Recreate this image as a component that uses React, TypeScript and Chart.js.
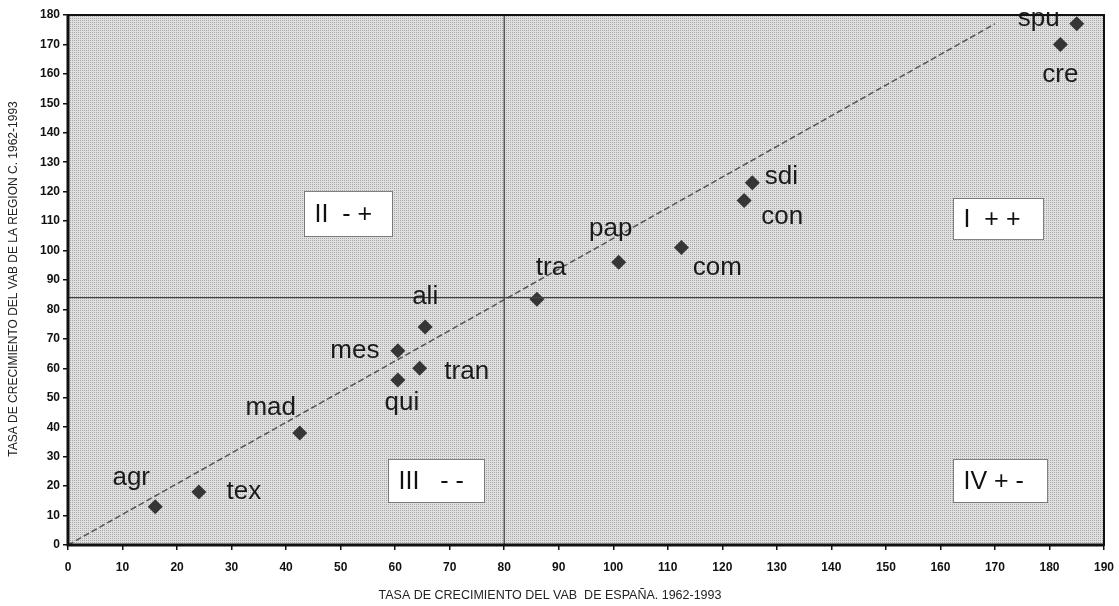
import { useEffect, useRef } from "react";
import { Chart, registerables } from "chart.js";

Chart.register(...registerables);

// ---- data ----
const sectors = ["agr", "tex", "mad", "mes", "qui", "tran", "ali", "tra", "pap", "com", "con", "sdi", "cre", "spu"];
const spainGrowth = [16, 24, 42.5, 60.5, 60.5, 64.5, 65.5, 86, 101, 112.5, 124, 125.5, 182, 185];
const regionGrowth = [13, 18, 38, 66, 56, 60, 74, 83.5, 96, 101, 117, 123, 170, 177];
const diagonalX = [0, 170];
const diagonalY = [0, 177];
const spainMean = 80;
const regionMean = 84;
const xRange = [0, 190];
const yRange = [0, 180];
const tickStep = 10;
const quadrantLabels = ["II  - +", "I  + +", "III   - -", "IV + -"];
const xTitle = "TASA DE CRECIMIENTO DEL VAB  DE ESPAÑA. 1962-1993";
const yTitle = "TASA DE CRECIMIENTO DEL VAB DE LA REGION C. 1962-1993";

// ---- styling / layout (not data) ----
const labelOffsets: [number, number][] = [
  [-24, -29], [45, 0], [-29, -25], [-43, 0], [4, 23], [47, 3], [0, -30],
  [14, -31], [-8, -34], [36, 20], [38, 16], [29, -6], [0, 30], [-38, -5],
];
// quadrant box extents in axis units [x0, x1, yTop, yBottom]
const quadrantBoxes: [number, number, number, number][] = [
  [43.3, 59.4, 120.2, 104.9],
  [162.3, 178.8, 117.9, 103.9],
  [58.7, 76.3, 29.2, 14.6],
  [162.3, 179.5, 29.2, 14.6],
];
const FONT = '"Liberation Sans", Arial, sans-serif';

function makePattern(ctx: CanvasRenderingContext2D) {
  const c = document.createElement("canvas");
  c.width = 2;
  c.height = 2;
  const p = c.getContext("2d")!;
  p.fillStyle = "#e0e0e0";
  p.fillRect(0, 0, 2, 2);
  p.fillStyle = "#a9a9a9";
  p.fillRect(0, 0, 1, 1);
  return ctx.createPattern(c, "repeat");
}

const decorPlugin = {
  id: "decor",
  beforeDatasetsDraw(chart: any) {
    const { ctx, chartArea: a } = chart;
    ctx.save();
    ctx.fillStyle = makePattern(ctx) || "#d6d6d6";
    ctx.fillRect(a.left, a.top, a.right - a.left, a.bottom - a.top);
    ctx.restore();
  },
  afterDatasetsDraw(chart: any) {
    const { ctx, scales } = chart;
    const xs = scales.x;
    const ys = scales.y;
    ctx.save();
    // point labels
    ctx.font = `26px ${FONT}`;
    ctx.fillStyle = "#1a1a1a";
    ctx.textAlign = "center";
    ctx.textBaseline = "middle";
    sectors.forEach((s, i) => {
      const px = xs.getPixelForValue(spainGrowth[i]) + labelOffsets[i][0];
      const py = ys.getPixelForValue(regionGrowth[i]) + labelOffsets[i][1];
      ctx.fillText(s, px, py);
    });
    // quadrant boxes
    quadrantBoxes.forEach((b, i) => {
      const x0 = Math.round(xs.getPixelForValue(b[0])) + 0.5;
      const x1 = Math.round(xs.getPixelForValue(b[1])) + 0.5;
      const y0 = Math.round(ys.getPixelForValue(b[2])) + 0.5;
      const y1 = Math.round(ys.getPixelForValue(b[3])) + 0.5;
      ctx.fillStyle = "#ffffff";
      ctx.fillRect(x0, y0, x1 - x0, y1 - y0);
      ctx.setLineDash([1, 1]);
      ctx.strokeStyle = "#111";
      ctx.lineWidth = 1;
      ctx.strokeRect(x0, y0, x1 - x0, y1 - y0);
      ctx.setLineDash([]);
      ctx.fillStyle = "#111";
      ctx.textAlign = "left";
      ctx.font = `25px ${FONT}`;
      ctx.fillText(quadrantLabels[i], x0 + 10, (y0 + y1) / 2 + 1);
    });
    ctx.restore();
  },
  afterDraw(chart: any) {
    const { ctx, chartArea: a } = chart;
    ctx.save();
    ctx.strokeStyle = "#111";
    ctx.lineWidth = 2;
    ctx.strokeRect(a.left, a.top, a.right - a.left, a.bottom - a.top);
    ctx.lineWidth = 3;
    ctx.beginPath();
    ctx.moveTo(a.left, a.top);
    ctx.lineTo(a.left, a.bottom);
    ctx.lineTo(a.right, a.bottom);
    ctx.stroke();
    // axis titles
    ctx.fillStyle = "#222";
    ctx.textAlign = "center";
    ctx.textBaseline = "middle";
    ctx.font = `12.5px ${FONT}`;
    ctx.fillText(xTitle, 550, 596);
    ctx.translate(14, 279);
    ctx.rotate(-Math.PI / 2);
    ctx.font = `12px ${FONT}`;
    ctx.fillText(yTitle, 0, 0);
    ctx.restore();
  },
};

export default function App() {
  const ref = useRef<HTMLCanvasElement | null>(null);
  useEffect(() => {
    if (!ref.current) return;
    const chart = new Chart(ref.current, {
      type: "scatter",
      data: {
        datasets: [
          {
            type: "line",
            data: [
              { x: spainMean, y: yRange[0] },
              { x: spainMean, y: yRange[1] },
            ],
            borderColor: "#444",
            borderWidth: 1.3,
            pointRadius: 0,
          },
          {
            type: "line",
            data: [
              { x: xRange[0], y: regionMean },
              { x: xRange[1], y: regionMean },
            ],
            borderColor: "#444",
            borderWidth: 1.3,
            pointRadius: 0,
          },
          {
            type: "line",
            data: diagonalX.map((x, i) => ({ x, y: diagonalY[i] })),
            borderColor: "#555",
            borderWidth: 1.5,
            borderDash: [6, 3],
            pointRadius: 0,
          },
          {
            type: "scatter",
            data: spainGrowth.map((x, i) => ({ x, y: regionGrowth[i] })),
            pointStyle: "rectRot",
            pointRadius: 7.5,
            backgroundColor: "#363636",
            borderColor: "#363636",
            borderWidth: 0,
          },
        ],
      },
      options: {
        animation: false,
        responsive: false,
        devicePixelRatio: 1,
        layout: { padding: { top: 15, right: 15, left: 0, bottom: 0 } },
        plugins: { legend: { display: false }, tooltip: { enabled: false } },
        scales: {
          x: {
            type: "linear",
            min: xRange[0],
            max: xRange[1],
            afterFit: (s: any) => {
              s.height = 61;
              s.paddingLeft = 0;
              s.paddingRight = 0;
            },
            ticks: {
              stepSize: tickStep,
              color: "#111",
              font: { family: FONT, size: 12, weight: "bold" },
              padding: 10,
              maxRotation: 0,
            },
            grid: {
              drawOnChartArea: false,
              drawTicks: true,
              tickLength: 5,
              color: "#111",
              lineWidth: 1.5,
            },
            border: { display: false },
          },
          y: {
            type: "linear",
            min: yRange[0],
            max: yRange[1],
            afterFit: (s: any) => {
              s.width = 68;
              s.paddingTop = 0;
              s.paddingBottom = 0;
            },
            ticks: {
              stepSize: tickStep,
              color: "#111",
              font: { family: FONT, size: 12, weight: "bold" },
              padding: 3,
            },
            grid: {
              drawOnChartArea: false,
              drawTicks: true,
              tickLength: 5,
              color: "#111",
              lineWidth: 1.5,
            },
            border: { display: false },
          },
        },
      },
      plugins: [decorPlugin],
    } as any);
    return () => chart.destroy();
  }, []);
  return (
    <div style={{ position: "fixed", left: 0, top: 0, width: 1119, height: 606, background: "#fff" }}>
      <canvas ref={ref} width={1119} height={606} style={{ display: "block" }} />
    </div>
  );
}
